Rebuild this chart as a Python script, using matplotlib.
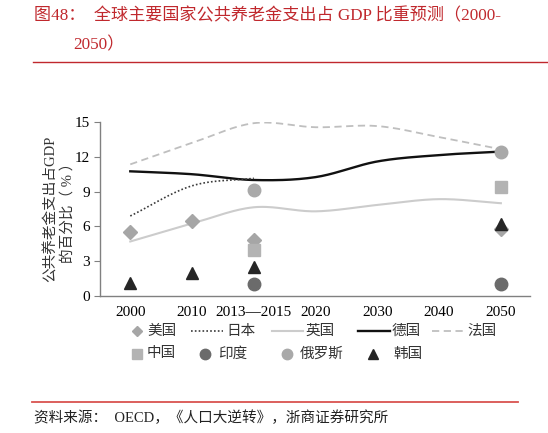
import numpy as np
import matplotlib
matplotlib.use("Agg")
import matplotlib.pyplot as plt
from matplotlib.lines import Line2D

plt.rcParams['font.family'] = ['Liberation Serif', 'Noto Sans CJK SC', 'DejaVu Sans']

# ---------------- data ----------------
categories = ["2000", "2010", "2013—2015", "2020", "2030", "2040", "2050"]
france = [11.35, 13.2, 14.9, 14.55, 14.65, 13.7, 12.65]
germany = [10.75, 10.5, 10.0, 10.25, 11.6, 12.15, 12.45]
uk = [4.7, 6.25, 7.65, 7.3, 7.85, 8.35, 8.0]
japan = [6.9, 9.5, 10.15]
us_idx = [0, 1, 2, 6]
us = [5.55, 6.5, 4.8, 5.8]
china_idx = [2, 6]
china = [3.95, 9.4]
india_idx = [2, 6]
india = [1.0, 1.0]
russia_idx = [2, 6]
russia = [9.15, 12.45]
korea_idx = [0, 1, 2, 6]
korea = [1.1, 1.95, 2.5, 6.2]
yticks = [0, 3, 6, 9, 12, 15]


def smooth(y, n=30):
    """Catmull-Rom rendering through the given points."""
    y = np.asarray(y, float)
    x = np.arange(len(y), dtype=float)
    px = np.concatenate([[2 * x[0] - x[1]], x, [2 * x[-1] - x[-2]]])
    py = np.concatenate([[2 * y[0] - y[1]], y, [2 * y[-1] - y[-2]]])
    xs, ys = [], []
    for i in range(1, len(px) - 2):
        t = np.linspace(0, 1, n, endpoint=(i == len(px) - 3))
        for arr, out in ((px, xs), (py, ys)):
            p0, p1, p2, p3 = arr[i - 1], arr[i], arr[i + 1], arr[i + 2]
            out.append(0.5 * ((2 * p1) + (-p0 + p2) * t
                              + (2 * p0 - 5 * p1 + 4 * p2 - p3) * t ** 2
                              + (-p0 + 3 * p1 - 3 * p2 + p3) * t ** 3))
    return np.concatenate(xs), np.concatenate(ys)


W, H = 548, 433
fig = plt.figure(figsize=(W / 100, H / 100), dpi=100)
ax = fig.add_axes([0.1825, 0.3164, 0.7845, 0.4018])

red = '#c0282d'
styles = {
    'fr': dict(color='#bfbfbf', lw=1.3, ls=(0, (4, 2.5))),
    'de': dict(color='#111111', lw=1.7, ls='-'),
    'uk': dict(color='#cccccc', lw=1.5, ls='-'),
    'jp': dict(color='#3a3a3a', lw=1.2, ls=(0, (1, 1.3))),
    'us': dict(marker='D', color='#a6a6a6'),
    'cn': dict(marker='s', color='#b3b3b3'),
    'in': dict(marker='o', color='#6b6b6b'),
    'ru': dict(marker='o', color='#a9a9a9'),
    'kr': dict(marker='^', color='#262626'),
}
sizes = {'us': 7, 'cn': 8.5, 'in': 9, 'ru': 9, 'kr': 8}

ax.plot(*smooth(france), **styles['fr'])
ax.plot(*smooth(germany), **styles['de'])
ax.plot(*smooth(uk), **styles['uk'])
ax.plot(*smooth(japan), **styles['jp'])
for key, xi, yv in (('us', us_idx, us), ('cn', china_idx, china), ('in', india_idx, india),
                    ('ru', russia_idx, russia), ('kr', korea_idx, korea)):
    ax.plot(xi, yv, ls='none', ms=sizes[key], **styles[key])

ax.set_xlim(-0.49, 6.47)
ax.set_ylim(0, 15)
ax.set_yticks(yticks)
ax.set_xticks(range(len(categories)))
ax.set_xticklabels(categories, fontsize=11)
ax.tick_params(axis='y', labelsize=11, length=4, color='#808080', pad=3)
ax.tick_params(axis='x', length=0, pad=7)
for s in ['top', 'right']:
    ax.spines[s].set_visible(False)
for s in ['left', 'bottom']:
    ax.spines[s].set_color('#808080')
    ax.spines[s].set_linewidth(1.0)
ax.set_ylabel('公共养老金支出占GDP\n的百分比（ % ）', fontsize=10.5, linespacing=1.3,
              color='#333333', va='center')
ax.yaxis.set_label_coords(-0.095, 0.5)

# manual legend (pixel positions in figure)
def fx(px):
    return px / W


def fy(py):
    return 1 - py / H


txt_kw = dict(fontsize=10.5, color='#333333', va='center', ha='left')
row1 = 331
row2 = 354
# row 1
fig.add_artist(Line2D([fx(137)], [fy(row1)], ls='none', ms=5.5, transform=fig.transFigure, **styles['us']))
fig.text(fx(147), fy(row1), '美国', **txt_kw)
for key, x0, x1, xt, lab in (('jp', 191, 223, 226, '日本'), ('uk', 272, 303, 305, '英国'),
                             ('de', 358, 390, 392, '德国'), ('fr', 432, 465, 467, '法国')):
    fig.add_artist(Line2D([fx(x0), fx(x1)], [fy(row1), fy(row1)], transform=fig.transFigure,
                          **styles[key]))
    fig.text(fx(xt), fy(row1), lab, **txt_kw)
# row 2
for key, xm, xt, lab, ms in (('cn', 137, 147, '中国', 7), ('in', 205, 218, '印度', 7.5),
                             ('ru', 287, 300, '俄罗斯', 7.5), ('kr', 373, 393, '韩国', 7)):
    fig.add_artist(Line2D([fx(xm)], [fy(row2)], ls='none', ms=ms, transform=fig.transFigure,
                          **styles[key]))
    fig.text(fx(xt), fy(row2), lab, **txt_kw)

# title
fig.text(fx(34), fy(16), '图48：  全球主要国家公共养老金支出占 GDP 比重预测（2000-',
         fontsize=12.3, color=red, va='center', ha='left')
fig.text(fx(73), fy(45), '2050）', fontsize=12.3, color=red, va='center', ha='left')
fig.add_artist(Line2D([fx(33), 1.0], [fy(62), fy(62)], color=red, lw=1.0,
                      transform=fig.transFigure))
fig.add_artist(Line2D([fx(32), fx(518)], [fy(402), fy(402)], color='#d9534f', lw=1.3,
                      transform=fig.transFigure))
fig.text(fx(34), fy(418), '资料来源：  OECD，《人口大逆转》，浙商证券研究所',
         fontsize=10.5, color='#222222', va='center', ha='left')

fig.savefig('out.png', dpi=100)
